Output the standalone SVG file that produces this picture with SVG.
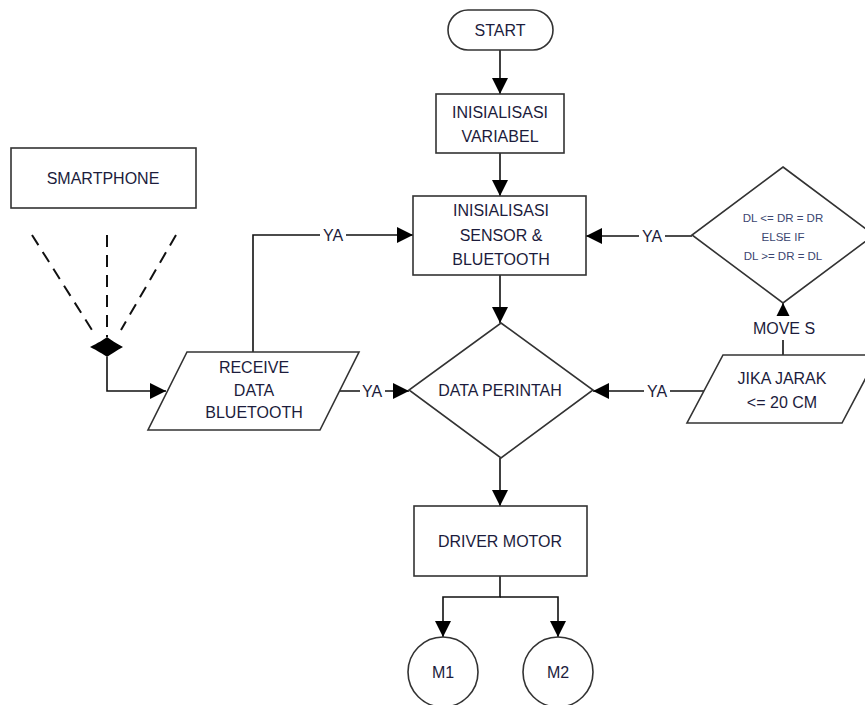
<svg xmlns="http://www.w3.org/2000/svg" width="865" height="705" viewBox="0 0 865 705">
<defs>
<style>
.shape{fill:#fff;stroke:#333;stroke-width:1.6}
.line{fill:none;stroke:#111;stroke-width:1.6}
.dash{fill:none;stroke:#111;stroke-width:2;stroke-dasharray:12 8}
text{font-family:"Liberation Sans",Arial,sans-serif;font-size:16px;fill:#1c1c3c;text-anchor:middle}
.small{font-size:11.5px;fill:#3b4670}
.lbl{fill:#fff;stroke:none}
</style>
<marker id="arr" viewBox="0 0 16 16" markerWidth="16" markerHeight="16" refX="16" refY="8" orient="auto" markerUnits="userSpaceOnUse">
<path d="M0,0 L16,8 L0,16 Z" fill="#000"/>
</marker>
</defs>
<rect width="865" height="705" fill="#fff"/>

<g id="connectors">
<line class="line" x1="500" y1="50" x2="500" y2="94" marker-end="url(#arr)"/>
<line class="line" x1="500" y1="153" x2="500" y2="196" marker-end="url(#arr)"/>
<line class="line" x1="500" y1="275" x2="500" y2="323" marker-end="url(#arr)"/>
<line class="line" x1="500" y1="458" x2="500" y2="506" marker-end="url(#arr)"/>
<polyline class="line" points="500,576 500,597 443,597 443,637" marker-end="url(#arr)"/>
<polyline class="line" points="500,597 558,597 558,637" marker-end="url(#arr)"/>
<polyline class="line" points="107,357 107,391 166,391" marker-end="url(#arr)"/>
<polyline class="line" points="253,352 253,235 413,235" marker-end="url(#arr)"/>
<line class="line" x1="340" y1="391" x2="409" y2="391" marker-end="url(#arr)"/>
<line class="line" x1="692" y1="236" x2="586" y2="236" marker-end="url(#arr)"/>
<line class="line" x1="704" y1="391" x2="593" y2="391" marker-end="url(#arr)"/>
<line class="line" x1="783" y1="355" x2="783" y2="303" marker-end="url(#arr)"/>
<line class="dash" x1="32" y1="235" x2="92" y2="330"/>
<line class="dash" x1="107" y1="235" x2="107" y2="337"/>
<line class="dash" x1="176" y1="235" x2="121" y2="330"/>
<path d="M90,347 C98,343 103,340 107,337 C111,340 116,343 123,347 C116,351 111,354 107,357 C103,354 98,351 90,347 Z" fill="#000"/>
<rect class="lbl" x="320" y="226" width="26" height="18"/>
<text x="333" y="241">YA</text>
<rect class="lbl" x="360" y="382" width="25" height="18"/>
<text x="372" y="397">YA</text>
<rect class="lbl" x="639" y="227" width="26" height="18"/>
<text x="652" y="242">YA</text>
<rect class="lbl" x="644" y="382" width="26" height="18"/>
<text x="657" y="397">YA</text>
<rect class="lbl" x="745" y="316" width="76" height="24"/>
<text x="784" y="334">MOVE S</text>
</g>

<g id="start">
<rect class="shape" x="448" y="10" width="105" height="40" rx="20"/>
<text x="500" y="36">START</text>
</g>
<g id="init-var">
<rect class="shape" x="436" y="94" width="128" height="59"/>
<text x="500" y="118">INISIALISASI</text>
<text x="500" y="142">VARIABEL</text>
</g>
<g id="init-sensor">
<rect class="shape" x="413" y="196" width="173" height="79"/>
<text x="501" y="216">INISIALISASI</text>
<text x="501" y="241">SENSOR &amp;</text>
<text x="501" y="265">BLUETOOTH</text>
</g>
<g id="data-perintah">
<polygon class="shape" points="501,323 593,390 501,458 409,390"/>
<text x="500" y="396">DATA PERINTAH</text>
</g>
<g id="driver-motor">
<rect class="shape" x="414" y="506" width="173" height="70"/>
<text x="500" y="547">DRIVER MOTOR</text>
</g>
<g id="m1">
<circle class="shape" cx="443" cy="672" r="35"/>
<text x="443" y="678">M1</text>
</g>
<g id="m2">
<circle class="shape" cx="558" cy="672" r="35"/>
<text x="558" y="678">M2</text>
</g>
<g id="smartphone">
<rect class="shape" x="11" y="148" width="185" height="60"/>
<text x="103" y="184">SMARTPHONE</text>
</g>
<g id="receive">
<polygon class="shape" points="187,352 359,352 320,430 148,430"/>
<text x="254" y="373">RECEIVE</text>
<text x="254" y="396">DATA</text>
<text x="254" y="418">BLUETOOTH</text>
</g>
<g id="decision-dl">
<polygon class="shape" points="783,167 874,235 783,303 692,235"/>
<text class="small" x="783" y="222">DL &lt;= DR = DR</text>
<text class="small" x="783" y="241">ELSE IF</text>
<text class="small" x="783" y="260">DL &gt;= DR = DL</text>
</g>
<g id="jika-jarak">
<polygon class="shape" points="723,355 878,355 842,423 687,423"/>
<text x="782" y="384">JIKA JARAK</text>
<text x="782" y="408">&lt;= 20 CM</text>
</g>
</svg>
